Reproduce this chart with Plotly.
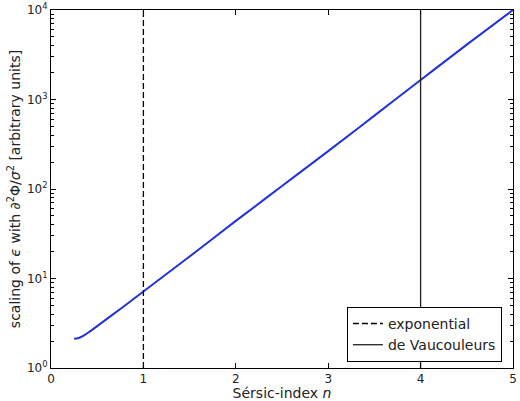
import plotly.graph_objects as go

# Sersic index and the scaling of epsilon
SERSIC_N = [0.25, 0.3, 0.35, 0.4, 0.5, 0.75, 1.0, 1.5, 2.0, 2.5, 3.0, 3.5, 4.0, 4.5, 5.0]
SCALING = [2.12, 2.16, 2.29, 2.48, 2.94, 4.57, 7.16, 17.6, 44, 108, 265, 660, 1650, 4100, 10000]

# reference profiles marked with vertical lines
EXP_N = 1
DEV_N = 4
Y_SPAN = [1, 1e4]

Y_TICKS = [1, 10, 100, 1000, 10000]
Y_TICKTEXT = ['10<sup>0</sup>', '10<sup>1</sup>', '10<sup>2</sup>', '10<sup>3</sup>', '10<sup>4</sup>']
Y_MINOR = [m * 10 ** d for d in range(4) for m in range(2, 10)]
X_TICKS = [0, 1, 2, 3, 4, 5]

FONT = 'DejaVu Sans'
TEXT = '#222222'

fig = go.Figure()
fig.add_trace(go.Scatter(x=SERSIC_N, y=SCALING, mode='lines', line=dict(color='#1f33d9', width=2),
                         line_shape='spline', showlegend=False))
fig.add_trace(go.Scatter(x=[EXP_N, EXP_N], y=Y_SPAN, mode='lines', name='exponential',
                         line=dict(color='black', width=1.3, dash='6px,3px')))
fig.add_trace(go.Scatter(x=[DEV_N, DEV_N], y=Y_SPAN, mode='lines', name='de Vaucouleurs',
                         line=dict(color='#222222', width=1.3)))

axis_style = dict(showgrid=False, zeroline=False, showline=True, linecolor='black', linewidth=1,
                  mirror='ticks', ticks='inside', tickcolor='black', ticklen=5, automargin=False,
                  tickfont=dict(family=FONT, size=12, color=TEXT))

fig.update_xaxes(range=[0, 5], tickvals=X_TICKS, title=dict(text='Sérsic-index <i>n</i>', standoff=0,
                 font=dict(family=FONT, size=14, color=TEXT)), **axis_style)
fig.update_yaxes(type='log', range=[0, 4], tickvals=Y_TICKS, ticktext=Y_TICKTEXT,
                 minor=dict(tickvals=Y_MINOR, ticks='inside', ticklen=3, tickcolor='black'),
                 title=dict(text='scaling of <i>ϵ</i> with <i>∂</i><sup>2</sup>Φ/<i>σ</i><sup>2</sup> [arbitrary units]',
                            standoff=3, font=dict(family=FONT, size=14, color=TEXT)),
                 **axis_style)

fig.update_layout(
    width=520, height=401,
    margin=dict(l=51, r=7, t=10, b=33),
    plot_bgcolor='white', paper_bgcolor='white',
    font=dict(family=FONT, size=13, color=TEXT),
    legend=dict(x=0.976, y=0.017, xanchor='right', yanchor='bottom', bgcolor='white',
                bordercolor='black', borderwidth=1, font=dict(family=FONT, size=14),
                itemwidth=30, tracegroupgap=0),
)

# drop the browser's default page margin so the figure sits at the window corner
fig.write_html('out.html', config={'displayModeBar': False},
               post_script="document.body.style.margin='0';")
